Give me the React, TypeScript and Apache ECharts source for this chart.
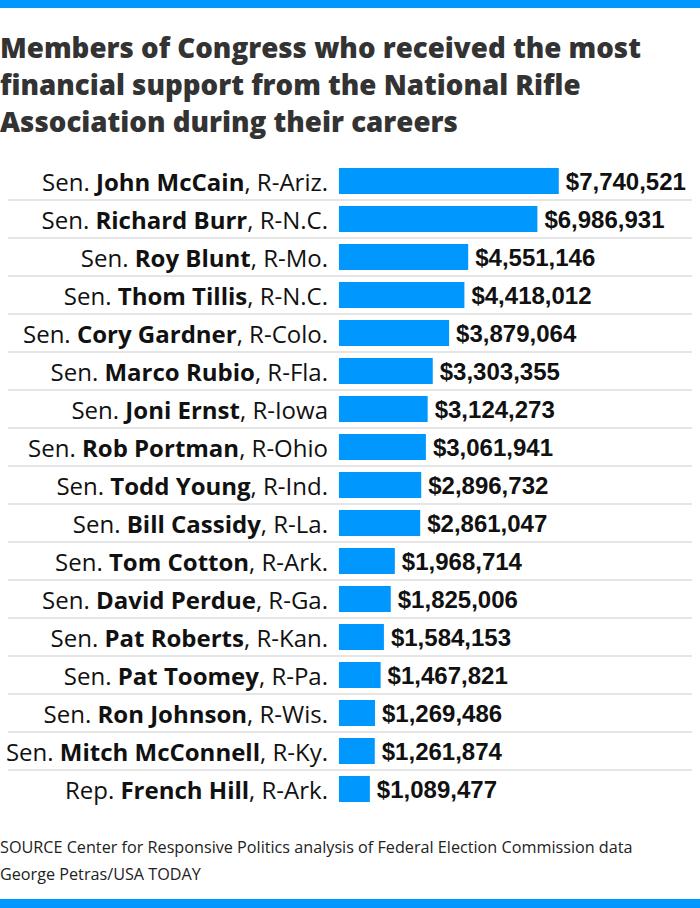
import React, { useEffect, useRef } from "react";
import * as echarts from "echarts";

const prefixes = ["Sen.", "Sen.", "Sen.", "Sen.", "Sen.", "Sen.", "Sen.", "Sen.", "Sen.", "Sen.", "Sen.", "Sen.", "Sen.", "Sen.", "Sen.", "Sen.", "Rep."];
const names = [
  "John McCain",
  "Richard Burr",
  "Roy Blunt",
  "Thom Tillis",
  "Cory Gardner",
  "Marco Rubio",
  "Joni Ernst",
  "Rob Portman",
  "Todd Young",
  "Bill Cassidy",
  "Tom Cotton",
  "David Perdue",
  "Pat Roberts",
  "Pat Toomey",
  "Ron Johnson",
  "Mitch McConnell",
  "French Hill",
];
const states = ["R-Ariz.", "R-N.C.", "R-Mo.", "R-N.C.", "R-Colo.", "R-Fla.", "R-Iowa", "R-Ohio", "R-Ind.", "R-La.", "R-Ark.", "R-Ga.", "R-Kan.", "R-Pa.", "R-Wis.", "R-Ky.", "R-Ark."];
const values = [7740521, 6986931, 4551146, 4418012, 3879064, 3303355, 3124273, 3061941, 2896732, 2861047, 1968714, 1825006, 1584153, 1467821, 1269486, 1261874, 1089477];

const titleText = "Members of Congress who received the most\nfinancial support from the National Rifle\nAssociation during their careers";
const sourceText = "SOURCE Center for Responsive Politics analysis of Federal Election Commission data";
const creditText = "George Petras/USA TODAY";

const BLUE = "#0098FF";
const LABEL_FONT = "'Open Sans', sans-serif";

export default function App() {
  const ref = useRef<HTMLDivElement>(null);
  useEffect(() => {
    if (!ref.current) return;
    const chart = echarts.init(ref.current, null, { renderer: "svg" });
    chart.setOption({
      animation: false,
      backgroundColor: "#ffffff",
      title: [
        {
          text: titleText,
          left: 0,
          top: 28,
          padding: 0,
          textStyle: {
            fontFamily: "'Open Sans', sans-serif",
            fontWeight: 800,
            fontSize: 27.7,
            lineHeight: 37,
            color: "#333333",
          },
        },
        {
          text: sourceText + "\n" + creditText,
          left: 0,
          top: 833,
          padding: 0,
          textStyle: {
            fontFamily: "'Open Sans', sans-serif",
            fontWeight: "normal",
            fontSize: 16.2,
            lineHeight: 27,
            color: "#222222",
          },
        },
      ],
      graphic: [
        { type: "rect", left: 0, top: 0, shape: { width: 700, height: 8 }, style: { fill: BLUE } },
        { type: "rect", left: 0, top: 899, shape: { width: 700, height: 9 }, style: { fill: BLUE } },
      ],
      grid: { left: 8, right: 8, top: 162, height: 646 },
      xAxis: {
        type: "value",
        min: -11650000,
        max: 12430000,
        show: false,
      },
      yAxis: {
        type: "category",
        data: names,
        inverse: true,
        axisLine: { show: false },
        axisTick: { show: false },
        splitLine: {
          show: true,
          showMinLine: false,
          showMaxLine: false,
          lineStyle: { color: "#dddddd", width: 1.5 },
        },
        axisLabel: {
          inside: true,
          margin: 320,
          align: "right",
          formatter: (v: string, i: number) => `{r|${prefixes[i]} }{b|${v}}{r|, ${states[i]}}`,
          rich: {
            r: { fontFamily: LABEL_FONT, fontSize: 24, color: "#111111" },
            b: { fontFamily: LABEL_FONT, fontSize: 24, fontWeight: "bold", color: "#111111" },
          },
        },
      },
      series: [
        {
          type: "bar",
          data: values,
          barWidth: 26,
          itemStyle: { color: BLUE },
          label: {
            show: true,
            position: "right",
            distance: 7,
            formatter: (p: any) => "$" + Number(p.value).toLocaleString("en-US"),
            fontFamily: "'Liberation Sans', Arial, sans-serif",
            fontWeight: "bold",
            fontSize: 24,
            color: "#111111",
          },
        },
      ],
    });
    return () => chart.dispose();
  }, []);
  return <div ref={ref} style={{ position: "fixed", left: 0, top: 0, width: 700, height: 908 }} />;
}
